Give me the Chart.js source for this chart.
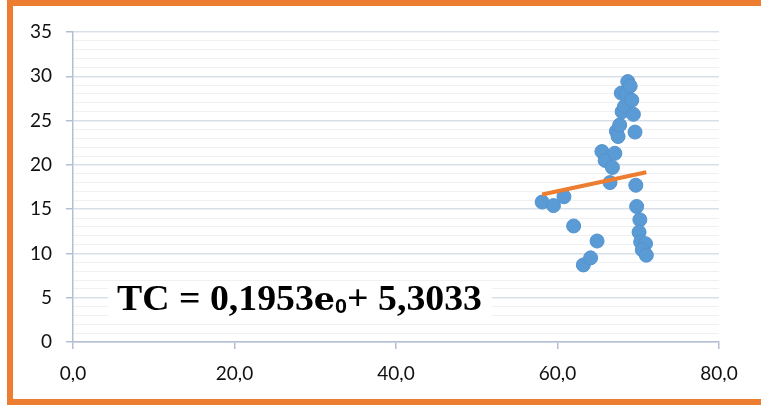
<!DOCTYPE html>
<html>
<head>
<meta charset="utf-8">
<script src="https://cdn.jsdelivr.net/npm/chart.js@4.4.1/dist/chart.umd.min.js"></script>
<style>
  html, body { margin: 0; padding: 0; background: #fff; overflow: hidden; }
  #wrap { position: relative; width: 761px; height: 405px; overflow: hidden; }
  #myChart { position: absolute; left: 0; top: 0; }
  #frame {
    position: absolute; left: 7px; top: 0; width: 800px; height: 393px;
    border: 6px solid #ED7D31; border-right: none; pointer-events: none;
  }
</style>
</head>
<body>
<div id="wrap">
  <canvas id="myChart" width="761" height="405"></canvas>
  <div id="frame"></div>
</div>
<script>
// scatter data
const xVals = [58.1, 59.5, 60.8, 62.0, 63.2, 64.1, 64.9, 65.5, 65.9, 66.5, 66.8,
  67.1, 67.3, 67.5, 67.7, 67.9, 68.0, 68.3, 68.5, 68.7, 69.0, 69.2, 69.4, 69.6,
  69.7, 69.8, 70.2, 70.1, 70.3, 70.9, 70.5, 71.0];
const yVals = [15.8, 15.4, 16.4, 13.1, 8.7, 9.5, 11.4, 21.5, 20.5, 18.0, 19.7,
  21.3, 23.8, 23.2, 24.5, 28.1, 26.0, 26.6, 28.0, 29.4, 28.9, 27.3, 25.7, 23.7,
  17.7, 15.3, 13.8, 12.4, 11.3, 11.1, 10.4, 9.8];

// linear trendline
const slope = 0.1953;
const intercept = 5.3033;

const xTickLabels = ["0,0", "20,0", "40,0", "60,0", "80,0"];
const yTickLabels = ["0", "5", "10", "15", "20", "25", "30", "35"];

const points = xVals.map((x, i) => ({ x: x, y: yVals[i] }));
const xMin = Math.min(...xVals);
const xMax = Math.max(...xVals);
const trend = [
  { x: xMin, y: slope * xMin + intercept },
  { x: xMax, y: slope * xMax + intercept },
];

const axisColor = "#B4BED3";
const majorGrid = "#D9DFE9";
const minorGrid = "#EFF0F3";

const eqParts = [
  { t: "TC = 0,1953", font: "bold 35px 'Liberation Serif'", dy: 0 },
  { t: "e", font: "bold 31px 'DejaVu Serif'", dy: 0 },
  { t: "0", font: "bold 20px 'Liberation Sans'", dy: 3 },
  { t: "+ 5,3033", font: "bold 35px 'Liberation Serif'", dy: 0 },
];

const equationPlugin = {
  id: "equation",
  afterDatasetsDraw(chart) {
    const c = chart.ctx;
    c.save();
    c.fillStyle = "#fff";
    c.fillRect(108, 283, 384, 38);
    let total = 0;
    eqParts.forEach((p) => {
      c.font = p.font;
      p.w = c.measureText(p.t).width;
      total += p.w;
    });
    const sx = 365 / total;
    c.translate(117, 310);
    c.scale(sx, 1);
    c.fillStyle = "#000";
    c.textBaseline = "alphabetic";
    let x = 0;
    eqParts.forEach((p) => {
      c.font = p.font;
      c.fillText(p.t, x, p.dy);
      x += p.w;
    });
    c.restore();
  },
};

const data = {
  datasets: [
    {
      type: "line",
      data: trend,
      borderColor: "#ED7D31",
      borderWidth: 4,
      pointRadius: 0,
      fill: false,
    },
    {
      type: "scatter",
      data: points,
      backgroundColor: "#5B9BD5",
      borderColor: "#5593CE",
      borderWidth: 1,
      pointRadius: 7,
    },
  ],
};

const myChart = new Chart("myChart", {
  type: "scatter",
  data: data,
  plugins: [equationPlugin],
  options: {
    responsive: false,
    animation: false,
    events: [],
    layout: { padding: { left: 0, top: 32, right: 42, bottom: 23 } },
    plugins: { legend: { display: false }, tooltip: { enabled: false } },
    scales: {
      x: {
        type: "linear",
        min: 0,
        max: 80,
        afterFit: (s) => { s.height = 40; },
        ticks: {
          stepSize: 20,
          padding: 13,
          color: "#111",
          font: { family: "Lato", size: 19 },
          callback: (v) => xTickLabels[v / 20],
        },
        grid: { drawOnChartArea: false, tickLength: 7, tickColor: axisColor, lineWidth: 1.5 },
        border: { color: axisColor, width: 1.5 },
      },
      y: {
        min: 0,
        max: 35,
        afterFit: (s) => { s.width = 73; },
        ticks: {
          stepSize: 1,
          autoSkip: false,
          padding: 14,
          color: "#111",
          font: { family: "Lato", size: 19 },
          callback: (v) => (v % 5 === 0 ? yTickLabels[v / 5] : ""),
        },
        grid: {
          tickLength: 7,
          lineWidth: (ctx) => (ctx.tick && ctx.tick.value % 5 === 0 ? 1.5 : 1),
          color: (ctx) => (ctx.tick && ctx.tick.value % 5 === 0 ? majorGrid : minorGrid),
          tickColor: (ctx) => (ctx.tick && ctx.tick.value % 5 === 0 ? axisColor : "rgba(0,0,0,0)"),
        },
        border: { color: axisColor, width: 1.5 },
      },
    },
  },
});
</script>
</body>
</html>
